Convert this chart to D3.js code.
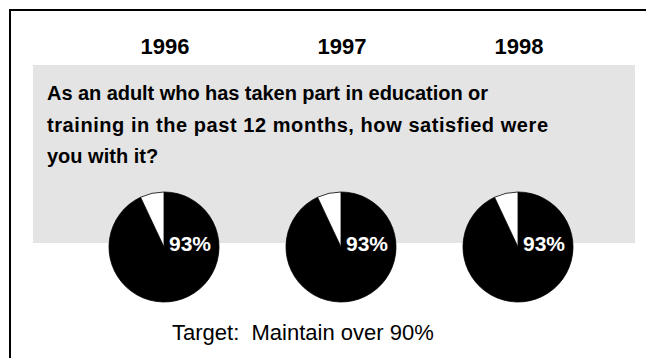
<!DOCTYPE html>
<html>
<head>
<meta charset="utf-8">
<script src="https://cdn.jsdelivr.net/npm/d3@7"></script>
<style>
  html, body { margin: 0; padding: 0; background: #fff; }
  svg { display: block; font-family: "Liberation Sans", Arial, sans-serif; }
</style>
</head>
<body>
<svg id="chart" width="646" height="358"></svg>
<script>
// Survey years and share of satisfied adults (percent)
const years = ["1996", "1997", "1998"];
const satisfied = [93, 93, 93];
const questionLines = [
  "As an adult who has taken part in education or",
  "training in the past 12 months, how satisfied were",
  "you with it?"
];
// Set width of each question line (null = natural width)
const questionWidths = [441, 501, null];
const targetText = "Target:\u00a0\u00a0Maintain over 90%";

const svg = d3.select("#chart");
const W = 646, H = 358;

// Outer frame (runs off the right and bottom edges)
svg.append("rect")
  .attr("x", 10).attr("y", 10)
  .attr("width", W).attr("height", H)
  .attr("fill", "#fff")
  .attr("stroke", "#000").attr("stroke-width", 2);

// Shaded question panel
svg.append("rect")
  .attr("x", 33).attr("y", 65)
  .attr("width", 602).attr("height", 178)
  .attr("fill", "#e4e4e4");

// Column positions for the three years
const x = d3.scalePoint().domain(years).range([164, 518]);

// Year headings
svg.selectAll("text.year")
  .data(years)
  .join("text")
  .attr("class", "year")
  .attr("x", d => x(d) + 1)
  .attr("y", 54)
  .attr("text-anchor", "middle")
  .attr("font-weight", "bold")
  .attr("font-size", 22)
  .text(d => d);

// Question text
svg.selectAll("text.q")
  .data(questionLines)
  .join("text")
  .attr("class", "q")
  .attr("x", 47)
  .attr("y", (d, i) => 100 + i * 31.5)
  .attr("font-weight", "bold")
  .attr("font-size", 20)
  .each(function (d, i) {
    if (questionWidths[i]) {
      d3.select(this)
        .attr("textLength", questionWidths[i])
        .attr("lengthAdjust", "spacing");
    }
  })
  .text(d => d);

// Pies: satisfied share in black, remainder in white, starting at 12 o'clock
const r = 55, cy = 247;
const pie = d3.pie().sort(null).value(d => d.v);
const arc = d3.arc().innerRadius(0).outerRadius(r);

years.forEach((yr, i) => {
  const pct = satisfied[i];
  const g = svg.append("g").attr("transform", `translate(${x(yr)},${cy})`);
  const parts = pie([{ k: "yes", v: pct }, { k: "no", v: 100 - pct }]);
  g.selectAll("path")
    .data(parts)
    .join("path")
    .attr("d", arc)
    .attr("fill", d => d.data.k === "yes" ? "#000" : "#fff")
    .attr("stroke", "#000")
    .attr("stroke-width", 0.8);
  g.append("text")
    .attr("x", 5)
    .attr("y", 4)
    .attr("fill", "#fff")
    .attr("font-weight", "bold")
    .attr("font-size", 21)
    .text(pct + "%");
});

// Target line
svg.append("text")
  .attr("x", 172)
  .attr("y", 340)
  .attr("font-size", 22)
  .text(targetText);
</script>
</body>
</html>
